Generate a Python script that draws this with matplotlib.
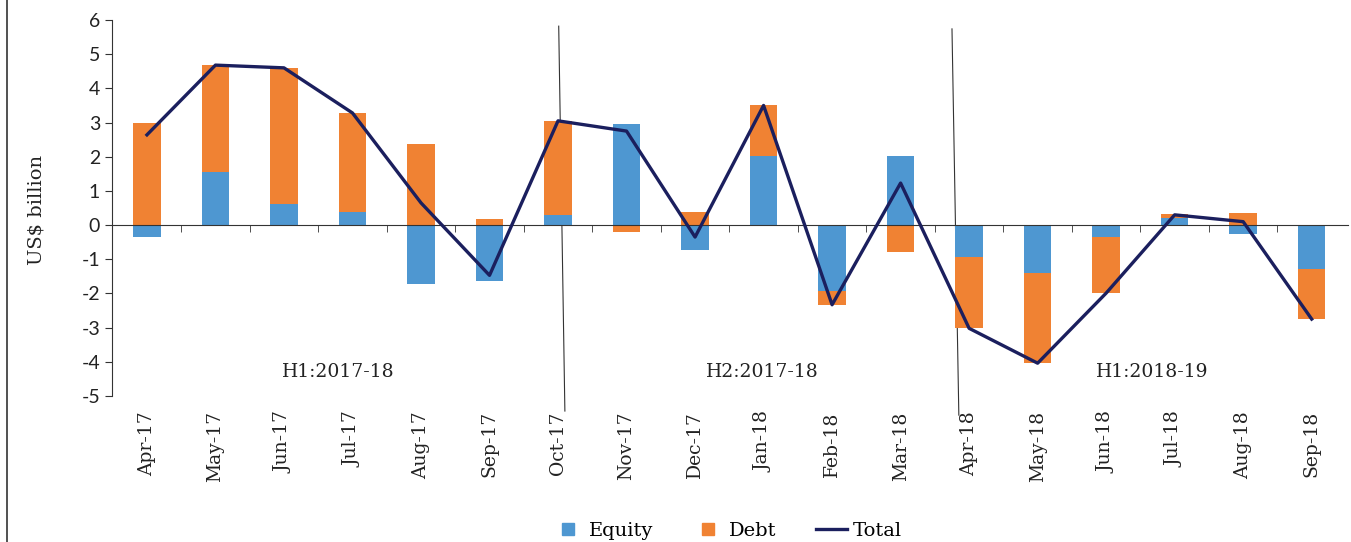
import numpy as np
import matplotlib.pyplot as plt
from matplotlib.lines import Line2D

plt.rcParams["axes.unicode_minus"] = False

# datos (US$ billion)
months = ["Apr-17", "May-17", "Jun-17", "Jul-17", "Aug-17", "Sep-17",
          "Oct-17", "Nov-17", "Dec-17", "Jan-18", "Feb-18", "Mar-18",
          "Apr-18", "May-18", "Jun-18", "Jul-18", "Aug-18", "Sep-18"]
equity = [-0.35, 1.55, 0.61, 0.38, -1.73, -1.64, 0.29, 2.96, -0.73, 2.03,
          -1.92, 2.02, -0.92, -1.41, -0.36, 0.22, -0.27, -1.29]
debt = [3.0, 3.13, 3.98, 2.9, 2.38, 0.18, 2.75, -0.2, 0.38, 1.47,
        -0.41, -0.79, -2.1, -2.63, -1.63, 0.09, 0.35, -1.46]
total = [2.64, 4.68, 4.6, 3.28, 0.65, -1.47, 3.05, 2.75, -0.35, 3.5,
         -2.33, 1.23, -3.02, -4.04, -1.99, 0.3, 0.1, -2.75]
periods = ["H1:2017-18", "H2:2017-18", "H1:2018-19"]
period_x = [2.8, 8.98, 14.67]

blue = "#4E97D1"
orange = "#F08233"
navy = "#1B1F5E"
serif = ["DejaVu Serif"]

x = np.arange(len(months))
equity = np.array(equity)
debt = np.array(debt)
# estilo Excel: barras positivas y negativas apiladas por separado
debt_bottom = np.where(np.sign(debt) == np.sign(equity), equity, 0)

fig = plt.figure(figsize=(13.51, 5.42), dpi=100)
ax = fig.add_axes([112 / 1351, 1 - 396 / 542, (1348 - 112) / 1351, 376 / 542])

ax.bar(x, equity, width=0.4, color=blue, zorder=2)
ax.bar(x, debt, width=0.4, bottom=debt_bottom, color=orange, zorder=2)
ax.plot(x, total, color=navy, lw=2.4, zorder=3)

ax.set_xlim(-0.51, 17.53)
ax.set_ylim(-5, 6)
ax.set_yticks(range(-5, 7))
ax.tick_params(axis="y", direction="out", length=5, labelsize=14, color="#333333",
               labelcolor="#222222")
for lbl in ax.get_yticklabels():
    lbl.set_family(["Lato", "DejaVu Sans"])

ax.spines["top"].set_visible(False)
ax.spines["right"].set_visible(False)
ax.spines["bottom"].set_position(("data", 0))
ax.spines["bottom"].set_color("#333333")
ax.spines["left"].set_color("#333333")

ax.set_xticks(x)
ax.set_xticklabels(months, rotation=90, family=serif, fontsize=13.5, color="#222222")
ax.tick_params(axis="x", which="major", length=0, pad=134)
ax.set_xticks(np.arange(0.5, 17.5, 1), minor=True)
ax.tick_params(axis="x", which="minor", direction="out", length=5, color="#333333")

# líneas divisorias entre semestres
ax.plot([6.01, 6.10], [5.82, -5.44], color="#333333", lw=0.8, clip_on=False, zorder=1)
ax.plot([11.75, 11.85], [5.74, -5.56], color="#333333", lw=0.8, clip_on=False, zorder=1)

for px, txt in zip(period_x, periods):
    ax.text(px, -4.3, txt, ha="center", va="center", family=serif, fontsize=13.5, color="#222222")

fig.text(36 / 1351, 1 - 210 / 542, "US$ billion", rotation=90, ha="center", va="center",
         family=serif, fontsize=14, color="#222222")

# borde izquierdo de la figura
fig.add_artist(Line2D([7 / 1351, 7 / 1351], [0, 1], color="#333333", lw=1.2))

handles = [Line2D([], [], marker="s", ls="none", color=blue, markersize=9),
           Line2D([], [], marker="s", ls="none", color=orange, markersize=9),
           Line2D([], [], color=navy, lw=2.4)]
fig.legend(handles, ["Equity", "Debt", "Total"], loc="center", bbox_to_anchor=(0.538, 0.02),
           ncol=3, frameon=False, handlelength=1.6, handletextpad=0.3, columnspacing=2.0,
           prop={"family": serif, "size": 14})

fig.savefig("out.png", dpi=100)
